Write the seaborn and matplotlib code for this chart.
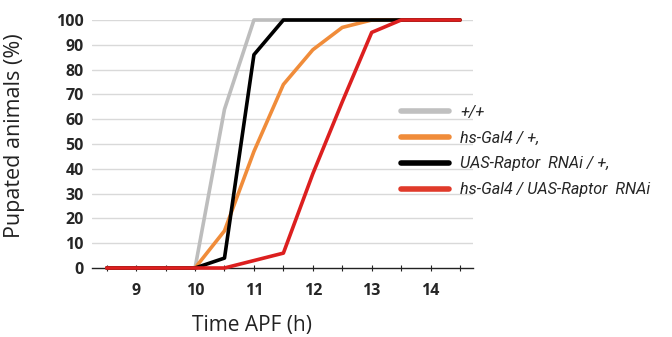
import matplotlib
matplotlib.use("Agg")
import matplotlib.pyplot as plt
import seaborn as sns
import pandas as pd
import numpy as np
from matplotlib.lines import Line2D

time_h = [8.5, 9.0, 9.5, 10.0, 10.5, 11.0, 11.5, 12.0, 12.5, 13.0, 13.5, 14.0, 14.5]
wild_type = [0, 0, 0, 0, 64, 100, 100, 100, 100, 100, 100, 100, 100]
hs_gal4 = [0, 0, 0, 0, 15, 47, 74, 88, 97, 100, 100, 100, 100]
uas_raptor = [0, 0, 0, 0, 4, 86, 100, 100, 100, 100, 100, 100, 100]
hs_gal4_raptor = [0, 0, 0, 0, 0, 3, 6, 38, 67, 95, 100, 100, 100]

series_names = ["+/+", "hs-Gal4 / +,", "UAS-Raptor  RNAi / +,", "hs-Gal4 / UAS-Raptor  RNAi"]
series_values = [wild_type, hs_gal4, uas_raptor, hs_gal4_raptor]
colors = ["#BDBDBD", "#F08C3A", "#000000", "#DC1F1F"]
legend_colors = ["#C0C0C0", "#F08C3A", "#000000", "#E03A2A"]
x_tick_labels = ["9", "10", "11", "12", "13", "14"]
y_ticks = [0, 10, 20, 30, 40, 50, 60, 70, 80, 90, 100]

rows = []
for name, vals in zip(series_names, series_values):
    for t, v in zip(time_h, vals):
        rows.append({"Time": t, "Pupated": v, "Genotype": name})
df = pd.DataFrame(rows)

sns.set_theme(style="white")
plt.rcParams["font.family"] = ["Open Sans", "DejaVu Sans"]

fig = plt.figure(figsize=(6.72, 3.37), dpi=100)
ax = fig.add_axes([92 / 672, 1 - 268 / 337, (473 - 92) / 672, (268 - 20) / 337])

for yv in y_ticks[1:]:
    ax.axhline(yv, color="#D9D9D9", lw=1.0, zorder=0)

sns.lineplot(data=df, x="Time", y="Pupated", hue="Genotype", hue_order=series_names,
             palette=colors, lw=2.6, ax=ax, legend=False, clip_on=False, zorder=3)

ax.set_xlim(8.25, 14.72)
ax.set_ylim(0, 100)
for s in ["top", "right", "left"]:
    ax.spines[s].set_visible(False)
ax.spines["bottom"].set_color("#222222")
ax.spines["bottom"].set_linewidth(1.0)

ax.set_xticks(np.arange(8.5, 14.51, 0.5), minor=True)
ax.set_xticks([9, 10, 11, 12, 13, 14])
ax.set_xticklabels(x_tick_labels, fontweight="bold", fontsize=11.5)
ax.tick_params(axis="x", which="both", direction="inout", length=5, width=0.8,
               color="#222222", bottom=True, pad=8)
ax.set_yticks(y_ticks)
ax.set_yticklabels([str(v) for v in y_ticks], fontweight="bold", fontsize=11.5)
ax.tick_params(axis="y", length=0, pad=6)

ax.set_xlabel("Time APF (h)", fontsize=15, color="#222222")
ax.xaxis.set_label_coords(0.42, -0.19)
ax.set_ylabel("Pupated animals (%)", fontsize=15.5, color="#222222")
ax.yaxis.set_label_coords(-0.175, 0.535)

handles = [Line2D([0], [0], color=c, lw=4) for c in legend_colors]
leg = fig.legend(handles, series_names, loc="upper left", bbox_to_anchor=(386 / 672, 1 - 90 / 337),
                 frameon=False, handlelength=3.0, handletextpad=0.7, labelspacing=0.68,
                 prop={"family": "Roboto", "style": "italic", "size": 11.6})

fig.savefig("out.png", dpi=100)
